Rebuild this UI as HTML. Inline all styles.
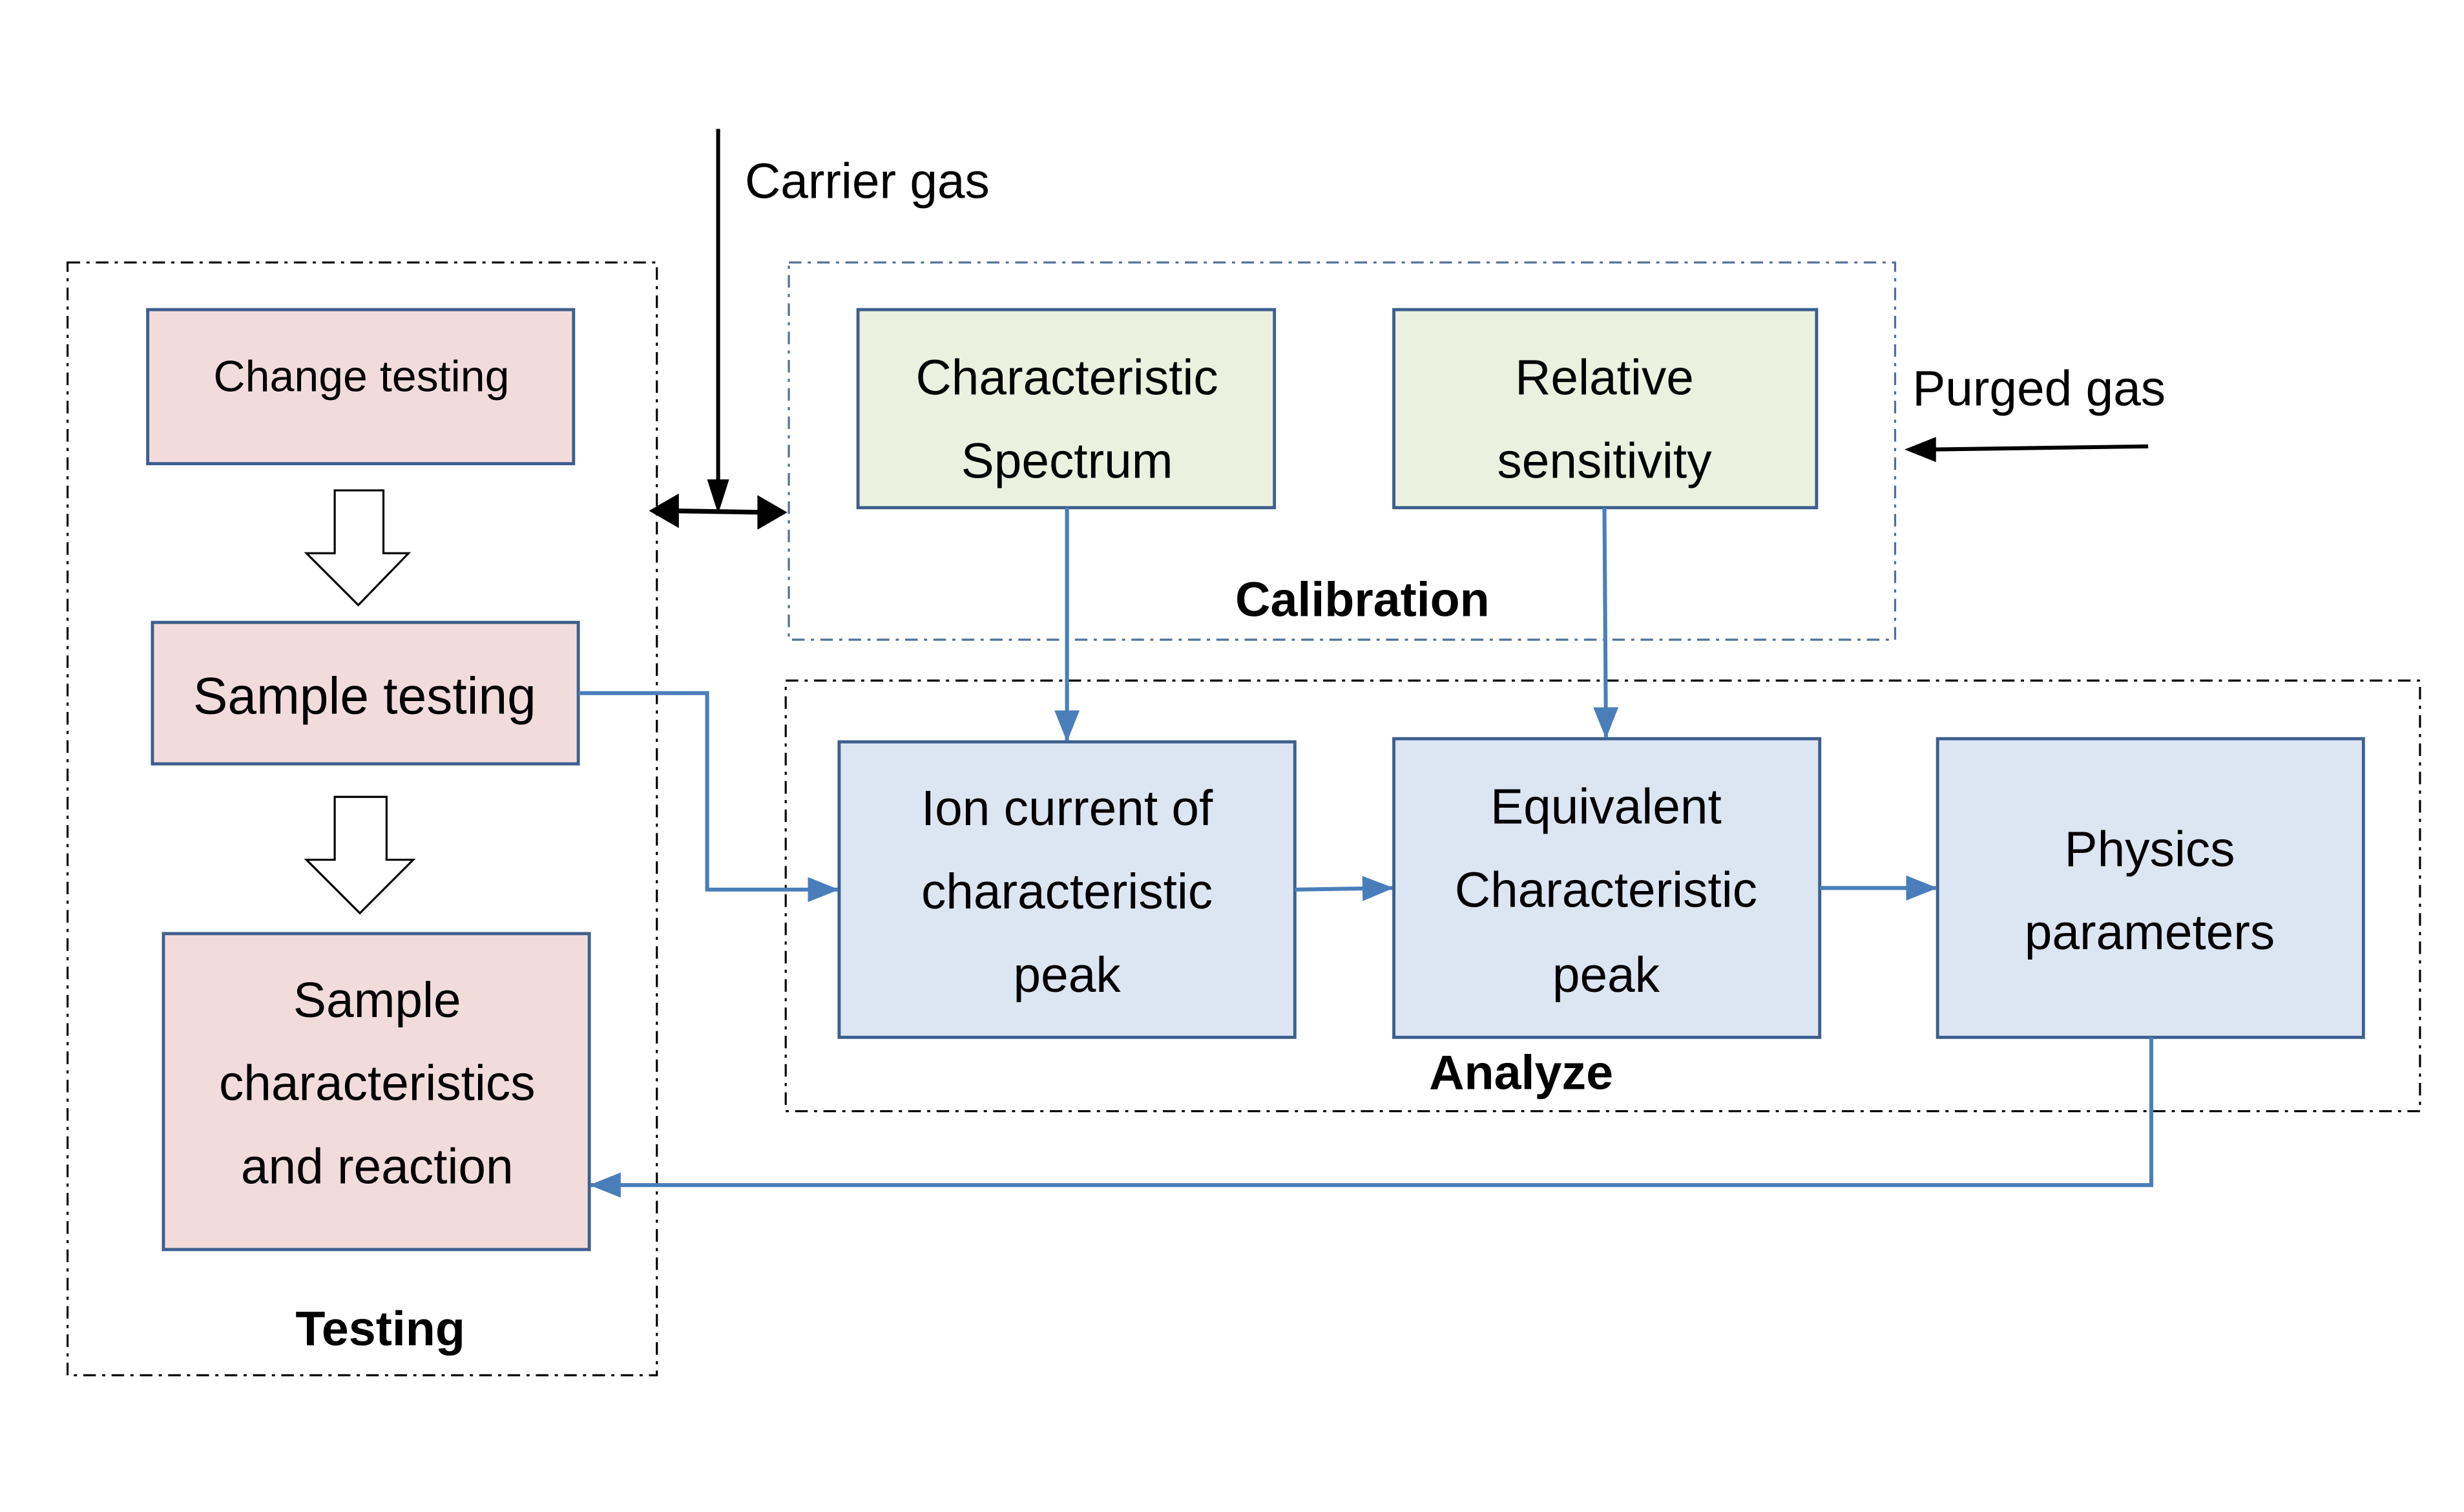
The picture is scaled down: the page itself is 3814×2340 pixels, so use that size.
<!DOCTYPE html>
<html><head><style>html,body{margin:0;padding:0;background:#fff}svg{display:block}</style></head>
<body>
<svg width="3814" height="2340" viewBox="0 0 1568 962" preserveAspectRatio="none" xmlns="http://www.w3.org/2000/svg" font-family="Liberation Sans, sans-serif">
<defs>
<marker id="ab" markerWidth="20" markerHeight="16" refX="19" refY="8" orient="auto" markerUnits="userSpaceOnUse" viewBox="0 0 20 16"><path d="M0,0 L20,8 L0,16 z" fill="#4a7ebb"/></marker>
</defs>
<rect width="1568" height="962" fill="#fff"/>
<rect x="43" y="167" width="375" height="708" fill="none" stroke="#000" stroke-width="1.3" stroke-dasharray="8,4,2,4"/>
<rect x="502" y="167" width="704" height="240" fill="none" stroke="#4f6f96" stroke-width="1.3" stroke-dasharray="8,4,2,4"/>
<rect x="500" y="433" width="1040" height="274" fill="none" stroke="#000" stroke-width="1.3" stroke-dasharray="8,4,2,4"/>
<g fill="#f2dcdb" stroke="#3d5f8f" stroke-width="2">
<rect x="94" y="197" width="271" height="98"/>
<rect x="97" y="396" width="271" height="90"/>
<rect x="104" y="594" width="271" height="201"/>
</g>
<g fill="#ebf1de" stroke="#3d5f8f" stroke-width="2">
<rect x="546" y="197" width="265" height="126"/>
<rect x="887" y="197" width="269" height="126"/>
</g>
<g fill="#dce6f2" stroke="#3d5f8f" stroke-width="2">
<rect x="534" y="472" width="290" height="188"/>
<rect x="887" y="470" width="271" height="190"/>
<rect x="1233" y="470" width="271" height="190"/>
</g>
<path d="M213,312 H244 V352 H260 L228,385 L195,352 H213 Z" fill="#fff" stroke="#000" stroke-width="1.3"/>
<path d="M213,507 H246 V547 H263 L229,581 L195,547 H213 Z" fill="#fff" stroke="#000" stroke-width="1.3"/>
<line x1="457" y1="82" x2="457" y2="308" stroke="#000" stroke-width="2.5"/>
<path d="M450,305 L464,305 L457,327 Z" fill="#000"/>
<line x1="428" y1="325" x2="488" y2="326" stroke="#000" stroke-width="3"/>
<path d="M413,325 L432,314 L432,336 Z" fill="#000"/>
<path d="M501,326 L482,315 L482,337 Z" fill="#000"/>
<line x1="1367" y1="284" x2="1228" y2="286" stroke="#000" stroke-width="2.5"/>
<path d="M1212,286 L1232,278 L1232,294 Z" fill="#000"/>
<g fill="none" stroke="#4a7ebb" stroke-width="2.5">
<polyline points="368,441 450,441 450,566 533,566" marker-end="url(#ab)"/>
<line x1="679" y1="323" x2="679" y2="471" marker-end="url(#ab)"/>
<line x1="1021" y1="323" x2="1022" y2="469" marker-end="url(#ab)"/>
<line x1="824" y1="566" x2="886" y2="565" marker-end="url(#ab)"/>
<line x1="1158" y1="565" x2="1232" y2="565" marker-end="url(#ab)"/>
<polyline points="1369,660 1369,754 376,754" marker-end="url(#ab)"/>
</g>
<g fill="#000" text-anchor="middle" font-size="31.5">
<text x="230" y="249" font-size="28">Change testing</text>
<text x="232" y="454" font-size="33">Sample testing</text>
<text x="240" y="647">Sample</text>
<text x="240" y="700">characteristics</text>
<text x="240" y="753">and reaction</text>
<text x="242" y="856" font-weight="bold" font-size="31">Testing</text>
<text x="679" y="251">Characteristic</text>
<text x="679" y="304">Spectrum</text>
<text x="1021" y="251">Relative</text>
<text x="1021" y="304">sensitivity</text>
<text x="867" y="392" font-weight="bold" font-size="31">Calibration</text>
<text x="679" y="525">Ion current of</text>
<text x="679" y="578">characteristic</text>
<text x="679" y="631">peak</text>
<text x="1022" y="524">Equivalent</text>
<text x="1022" y="577">Characteristic</text>
<text x="1022" y="631">peak</text>
<text x="1368" y="551">Physics</text>
<text x="1368" y="604">parameters</text>
<text x="968" y="693" font-weight="bold" font-size="31">Analyze</text>
<text x="474" y="126" text-anchor="start">Carrier gas</text>
<text x="1217" y="258" text-anchor="start">Purged gas</text>
</g>
</svg>
</body></html>
